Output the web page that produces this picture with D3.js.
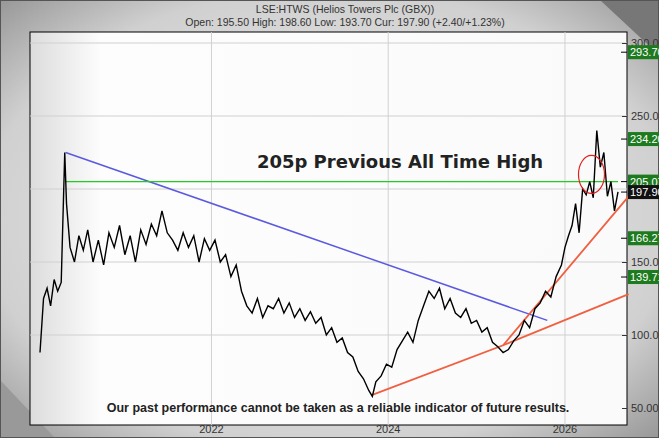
<!DOCTYPE html>
<html><head><meta charset="utf-8">
<script src="https://cdn.jsdelivr.net/npm/d3@7"></script>
<style>body{margin:0;background:#888}svg{display:block}</style>
</head><body>
<svg id="c" width="659" height="438"></svg>
<script>
const years=[2020.06,2020.10,2020.14,2020.18,2020.22,2020.26,2020.30,2020.34,2020.36,2020.40,2020.45,2020.50,2020.55,2020.60,2020.66,2020.72,2020.78,2020.84,2020.90,2020.96,2021.02,2021.08,2021.14,2021.20,2021.26,2021.32,2021.38,2021.44,2021.50,2021.56,2021.62,2021.68,2021.74,2021.80,2021.86,2021.92,2021.98,2022.04,2022.10,2022.16,2022.22,2022.28,2022.34,2022.40,2022.46,2022.52,2022.58,2022.64,2022.70,2022.76,2022.82,2022.88,2022.94,2023.00,2023.06,2023.12,2023.18,2023.24,2023.30,2023.36,2023.42,2023.48,2023.54,2023.60,2023.66,2023.72,2023.78,2023.82,2023.86,2023.92,2023.98,2024.04,2024.10,2024.16,2024.22,2024.28,2024.34,2024.40,2024.46,2024.52,2024.58,2024.64,2024.70,2024.76,2024.82,2024.88,2024.94,2025.00,2025.06,2025.12,2025.18,2025.24,2025.30,2025.36,2025.42,2025.48,2025.54,2025.60,2025.66,2025.72,2025.78,2025.84,2025.90,2025.96,2026.00,2026.04,2026.08,2026.12,2026.16,2026.20,2026.24,2026.28,2026.32,2026.36,2026.40,2026.44,2026.48,2026.52,2026.56,2026.60];
const prices=[88,125,132,120,138,130,136,225,190,160,150,168,158,172,150,165,148,170,160,175,155,168,150,172,162,176,168,185,170,165,158,170,160,168,150,166,158,165,150,155,140,148,130,120,115,125,112,120,118,125,115,122,112,118,110,116,108,112,100,105,95,98,88,85,75,70,62,58,68,72,80,78,90,96,102,95,110,120,130,125,132,118,125,115,112,118,108,110,102,105,95,92,88,90,96,100,110,105,118,122,130,126,140,148,160,168,175,190,170,200,196,205,194,240,215,225,195,205,185,198];
const yTicks=[50,100,150,250,300];
const markers=[{v:293.70,t:"293.70",c:"#1e7a1e"},{v:234.20,t:"234.20",c:"#1e7a1e"},{v:205.07,t:"205.07",c:"#1e7a1e"},{v:197.90,t:"197.90",c:"#111"},{v:166.27,t:"166.27",c:"#1e7a1e"},{v:139.71,t:"139.71",c:"#1e7a1e"}];
const xTicks=[2022,2024,2026];
const blueLine=[[2020.35,225],[2025.8,110]];
const greenLine=[[2020.35,205],[2026.6,205]];
const red1=[[2023.82,59],[2025.3,93],[2026.72,195]];
const red2=[[2025.3,93],[2026.72,128]];

const svg=d3.select("#c");
const defs=svg.append("defs");
const g1=defs.append("radialGradient").attr("id","bg").attr("cx","50%").attr("cy","50%").attr("r","75%");
g1.append("stop").attr("offset","0%").attr("stop-color","#f4f4f4");
g1.append("stop").attr("offset","70%").attr("stop-color","#d0d0d0");
g1.append("stop").attr("offset","100%").attr("stop-color","#8a8a8a");
const g2=defs.append("linearGradient").attr("id","pl").attr("x1","0").attr("x2","1");
g2.append("stop").attr("offset","0%").attr("stop-color","#dcdcdc");
g2.append("stop").attr("offset","12%").attr("stop-color","#fdfdfd");
g2.append("stop").attr("offset","100%").attr("stop-color","#fafafa");
svg.append("rect").attr("width",659).attr("height",438).attr("fill","url(#bg)");
svg.append("path").attr("d","M600,0 L659,0 L659,55 Z").attr("fill","#777");
svg.append("path").attr("d","M0,380 L0,438 L55,438 Z").attr("fill","#999");
svg.append("rect").attr("x",0.5).attr("y",0.5).attr("width",658).attr("height",437).attr("fill","none").attr("stroke","#555");

const L=30,R=627,T=32,B=425;
const x=d3.scaleLinear().domain([2020.06,2026.6]).range([40,618]);
const y=d3.scaleLinear().domain([50,300]).range([408,43]);
svg.append("rect").attr("x",L).attr("y",T).attr("width",R-L).attr("height",B-T).attr("fill","url(#pl)").attr("stroke","#000");

const gridVals=[300,250,200,150,100];
svg.selectAll(".hg").data(gridVals).join("line").attr("x1",L).attr("x2",R).attr("y1",d=>y(d)).attr("y2",d=>y(d)).attr("stroke","#d0d0d0");
svg.selectAll(".vg").data(xTicks).join("line").attr("x1",d=>x(d)).attr("x2",d=>x(d)).attr("y1",T).attr("y2",B).attr("stroke","#d0d0d0");

const ax=d3.axisRight(y).tickValues(yTicks).tickFormat(d3.format(".2f")).tickSize(5);
const ag=svg.append("g").attr("transform",`translate(${R},0)`).call(ax);
ag.select(".domain").remove();
ag.selectAll("text").attr("font-family","Liberation Sans, Arial").attr("font-size",11).attr("fill","#333").attr("x",4);
ag.selectAll("line").attr("stroke","#333").attr("x1",-5).attr("x2",0);

svg.selectAll(".xt").data(xTicks).join("text").attr("x",d=>x(d)).attr("y",B+8).attr("text-anchor","middle")
 .attr("font-family","Liberation Sans, Arial").attr("font-size",11).attr("fill","#333").text(d=>d);

const ln=d3.line().x(d=>x(d[0])).y(d=>y(d[1]));
svg.append("path").attr("d",ln(blueLine)).attr("stroke","#5a5ae0").attr("stroke-width",1.5).attr("fill","none");
svg.append("path").attr("d",ln(greenLine)).attr("stroke","#22cc22").attr("stroke-width",1.2).attr("fill","none");
svg.append("path").attr("d",ln(red1)).attr("stroke","#f06040").attr("stroke-width",1.8).attr("fill","none");
svg.append("path").attr("d",ln(red2)).attr("stroke","#f06040").attr("stroke-width",1.8).attr("fill","none");

const pl=d3.line().x((d,i)=>x(years[i])).y(d=>y(d));
svg.append("path").attr("d",pl(prices)).attr("stroke","#000").attr("stroke-width",1.4).attr("fill","none");

svg.append("ellipse").attr("cx",x(2026.3)).attr("cy",y(210)).attr("rx",13).attr("ry",19).attr("fill","none").attr("stroke","#e02020").attr("stroke-width",1.2);

svg.append("text").attr("x",400).attr("y",168).attr("text-anchor","middle").attr("font-family","DejaVu Sans, sans-serif").attr("font-weight","bold").attr("font-size",18).attr("fill","#222").text("205p Previous All Time High");
svg.append("text").attr("x",338).attr("y",412).attr("text-anchor","middle").attr("font-family","Liberation Sans, Arial").attr("font-weight","bold").attr("font-size",12.5).attr("fill","#222").text("Our past performance cannot be taken as a reliable indicator of future results.");

svg.append("text").attr("x",345).attr("y",13).attr("text-anchor","middle").attr("font-family","Liberation Sans, Arial").attr("font-size",10.5).attr("fill","#333").text("LSE:HTWS (Helios Towers Plc (GBX))");
svg.append("text").attr("x",345).attr("y",26).attr("text-anchor","middle").attr("font-family","Liberation Sans, Arial").attr("font-size",10.5).attr("fill","#333").text("Open: 195.50 High: 198.60 Low: 193.70 Cur: 197.90 (+2.40/+1.23%)");

const mg=svg.selectAll(".mk").data(markers).join("g").attr("transform",d=>`translate(${R},${y(d.v)})`);
mg.append("line").attr("x1",-6).attr("x2",0).attr("stroke","#000");
mg.append("rect").attr("x",1).attr("y",-7).attr("width",40).attr("height",14).attr("fill",d=>d.c);
mg.append("text").attr("x",3).attr("y",4).attr("font-family","Liberation Sans, Arial").attr("font-size",11).attr("fill","#fff").text(d=>d.t);
</script></body></html>
